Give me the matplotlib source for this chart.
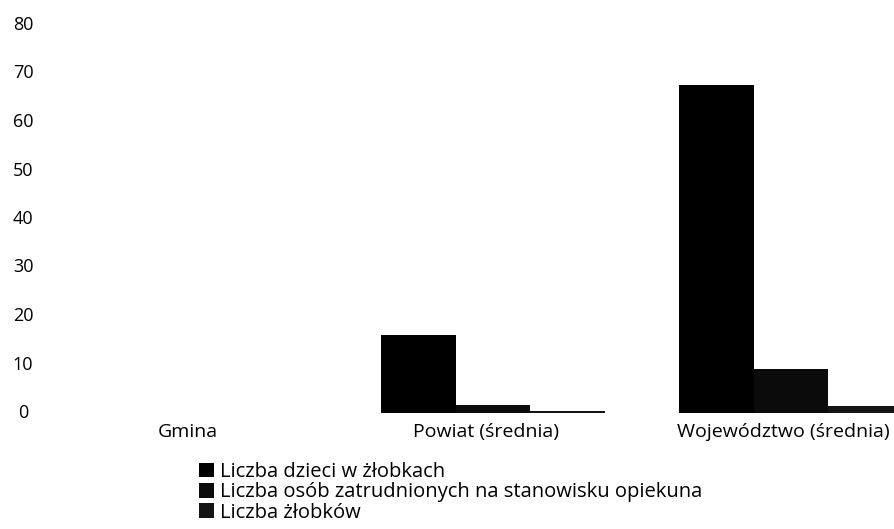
import matplotlib
matplotlib.use("Agg")
import matplotlib.pyplot as plt
import matplotlib.transforms as mtransforms
import numpy as np

plt.rcParams['font.family'] = ['Open Sans', 'DejaVu Sans']

# dane
kategorie = ["Gmina", "Powiat (średnia)", "Województwo (średnia)"]
dzieci = [0, 16, 67.6]
opiekunowie = [0, 1.6, 9]
zlobki = [0, 0.4, 1.4]
serie = ["Liczba dzieci w żłobkach",
         "Liczba osób zatrudnionych na stanowisku opiekuna",
         "Liczba żłobków"]
yticks = [0, 10, 20, 30, 40, 50, 60, 70, 80]

fig = plt.figure(figsize=(8.94, 5.29), dpi=100)
# os: 0 przy y=413 px, 80 przy y=25 px
ax = fig.add_axes([50 / 894, 1 - 413 / 529, 1 - 50 / 894, (413 - 25) / 529])

x = np.arange(len(kategorie))
w = 0.25
kolory = ["#000000", "#0b0b0b", "#141414"]
for i, (vals, lab) in enumerate(zip([dzieci, opiekunowie, zlobki], serie)):
    ax.bar(x + (i - 1) * w, vals, width=w, color=kolory[i], label=lab,
           linewidth=0)

ax.set_xlim(1 + (50 - 493) / 298, 1 + (894 - 493) / 298)
ax.set_ylim(0, 80)

for s in ax.spines.values():
    s.set_visible(False)

ax.set_xticks(x - 0.025)
ax.set_xticklabels(kategorie, fontsize=14)
ax.tick_params(axis='x', length=0, pad=7.5)

ax.set_yticks([])
trans = mtransforms.blended_transform_factory(fig.transFigure, ax.transData)
for t in yticks:
    ax.text(23 / 894, t, str(t), transform=trans, ha='center', va='center',
            fontsize=13, clip_on=False)

handles, labels = ax.get_legend_handles_labels()
fig.legend(handles, labels, loc='upper left',
           bbox_to_anchor=(199 / 894, 1 - 462 / 529),
           frameon=False, fontsize=14.5, handlelength=0.74, handleheight=0.74,
           handletextpad=0.32, labelspacing=0.02, borderaxespad=0,
           borderpad=0)

fig.savefig("out.png", dpi=100)
